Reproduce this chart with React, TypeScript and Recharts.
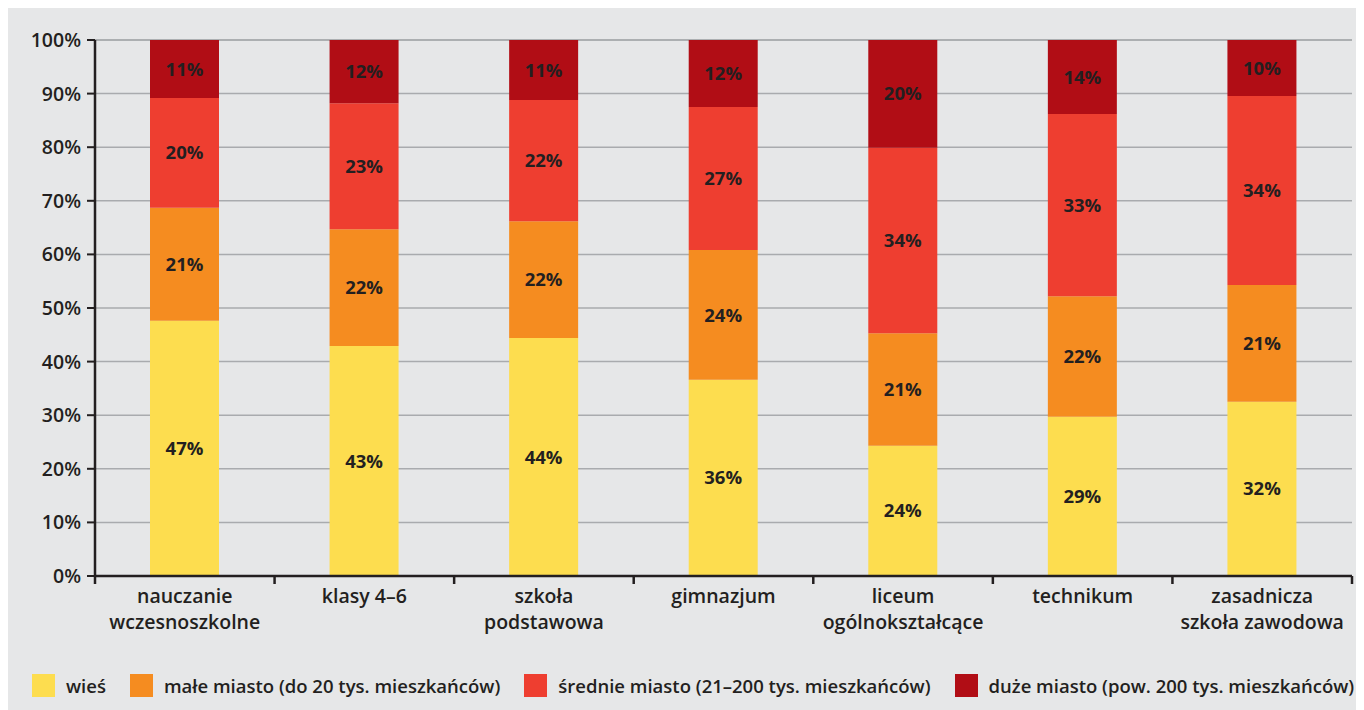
import React from 'react';
import { BarChart, Bar, XAxis, YAxis, CartesianGrid, LabelList, Legend } from 'recharts';

const categories = [
  'nauczanie wczesnoszkolne',
  'klasy 4–6',
  'szkoła podstawowa',
  'gimnazjum',
  'liceum ogólnokształcące',
  'technikum',
  'zasadnicza szkoła zawodowa',
];
const categoryLines = [
  ['nauczanie', 'wczesnoszkolne'],
  ['klasy 4–6'],
  ['szkoła', 'podstawowa'],
  ['gimnazjum'],
  ['liceum', 'ogólnokształcące'],
  ['technikum'],
  ['zasadnicza', 'szkoła zawodowa'],
];

const wies = [47.6, 42.9, 44.4, 36.6, 24.3, 29.7, 32.5];
const maleMiasto = [21.1, 21.8, 21.8, 24.2, 21.0, 22.5, 21.8];
const srednieMiasto = [20.5, 23.5, 22.6, 26.7, 34.6, 34.0, 35.25];
const duzeMiasto = [10.8, 11.8, 11.2, 12.5, 20.1, 13.8, 10.45];

const wiesLabels = ['47%', '43%', '44%', '36%', '24%', '29%', '32%'];
const maleLabels = ['21%', '22%', '22%', '24%', '21%', '22%', '21%'];
const srednieLabels = ['20%', '23%', '22%', '27%', '34%', '33%', '34%'];
const duzeLabels = ['11%', '12%', '11%', '12%', '20%', '14%', '10%'];

const yTicks = [0, 10, 20, 30, 40, 50, 60, 70, 80, 90, 100];

const seriesNames = [
  'wieś',
  'małe miasto (do 20 tys. mieszkańców)',
  'średnie miasto (21–200 tys. mieszkańców)',
  'duże miasto (pow. 200 tys. mieszkańców)',
];
const colors = ['#fddd4f', '#f58c20', '#ee3e30', '#b10d15'];

const data = categories.map((c, i) => ({
  name: c,
  wies: wies[i],
  male: maleMiasto[i],
  srednie: srednieMiasto[i],
  duze: duzeMiasto[i],
  wiesL: wiesLabels[i],
  maleL: maleLabels[i],
  srednieL: srednieLabels[i],
  duzeL: duzeLabels[i],
}));

const FONT = '"Open Sans", "Noto Sans", sans-serif';
const TEXT = '#231f20';
const BG = '#e6e7e8';

const CategoryTick = (props: any) => {
  const { x, y, payload, index } = props;
  const half = payload && typeof payload.offset === 'number' && payload.offset > 0 ? payload.offset : 89.8;
  const lines = categoryLines[index] || [String(payload.value)];
  return (
    <g>
      <line x1={x - half} x2={x - half} y1={y} y2={y + 8} stroke={TEXT} strokeWidth={2.5} />
      {index === categories.length - 1 && (
        <line x1={x + half} x2={x + half} y1={y} y2={y + 8} stroke={TEXT} strokeWidth={2.5} />
      )}
      <text
        x={x}
        y={y}
        textAnchor="middle"
        fill={TEXT}
        fontFamily={FONT}
        fontWeight={600}
        fontSize={19.5}
      >
        {lines.map((l: string, k: number) => (
          <tspan key={k} x={x} y={y + 27 + k * 26}>
            {l}
          </tspan>
        ))}
      </text>
    </g>
  );
};

const LegendContent = () => (
  <div
    style={{
      display: 'flex',
      alignItems: 'center',
      height: 23,
      paddingLeft: 24,
      fontFamily: FONT,
      fontWeight: 600,
      fontSize: 18.5,
      color: TEXT,
      whiteSpace: 'nowrap',
    }}
  >
    {seriesNames.map((n, i) => (
      <div key={i} style={{ display: 'flex', alignItems: 'center', marginRight: 24 }}>
        <span style={{ display: 'inline-block', width: 23, height: 23, background: colors[i], marginRight: 11 }} />
        <span>{n}</span>
      </div>
    ))}
  </div>
);

const labelStyle = { fill: TEXT, fontFamily: FONT, fontWeight: 700, fontSize: 18.5 };

export default function App() {
  return (
    <div style={{ width: 1356, height: 702, background: BG, position: 'relative' }}>
      <BarChart
        width={1356}
        height={702}
        data={data}
        margin={{ top: 32, right: 12, left: 27, bottom: 41 }}
        style={{ fontFamily: FONT }}
      >
        <CartesianGrid horizontal vertical={false} stroke="#a9abae" strokeWidth={1.5} />
        <XAxis
          dataKey="name"
          height={70}
          interval={0}
          tickSize={0}
          tickMargin={0}
          tickLine={false}
          axisLine={{ stroke: TEXT, strokeWidth: 2.5 }}
          tick={<CategoryTick />}
        />
        <YAxis
          width={60}
          domain={[0, 100]}
          ticks={yTicks}
          interval={0}
          tickFormatter={(v: number) => `${v}%`}
          tickSize={8}
          tickMargin={6}
          tickLine={{ stroke: TEXT, strokeWidth: 2 }}
          axisLine={{ stroke: TEXT, strokeWidth: 2.5 }}
          tick={{ fill: TEXT, fontFamily: FONT, fontWeight: 600, fontSize: 19.5 }}
        />
        <Legend
          verticalAlign="bottom"
          content={<LegendContent />}
          wrapperStyle={{ left: 0, top: 666, width: 1356 }}
        />
        <Bar dataKey="wies" name={seriesNames[0]} stackId="a" fill={colors[0]} barSize={69} isAnimationActive={false}>
          <LabelList dataKey="wiesL" position="center" style={labelStyle} />
        </Bar>
        <Bar dataKey="male" name={seriesNames[1]} stackId="a" fill={colors[1]} barSize={69} isAnimationActive={false}>
          <LabelList dataKey="maleL" position="center" style={labelStyle} />
        </Bar>
        <Bar dataKey="srednie" name={seriesNames[2]} stackId="a" fill={colors[2]} barSize={69} isAnimationActive={false}>
          <LabelList dataKey="srednieL" position="center" style={labelStyle} />
        </Bar>
        <Bar dataKey="duze" name={seriesNames[3]} stackId="a" fill={colors[3]} barSize={69} isAnimationActive={false}>
          <LabelList dataKey="duzeL" position="center" style={labelStyle} />
        </Bar>
      </BarChart>
    </div>
  );
}
